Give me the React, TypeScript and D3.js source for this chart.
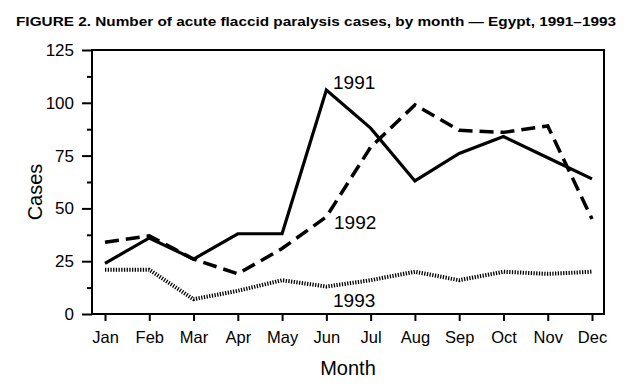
import React, { useRef, useEffect } from 'react';
import * as d3 from 'd3';

const months = ['Jan', 'Feb', 'Mar', 'Apr', 'May', 'Jun', 'Jul', 'Aug', 'Sep', 'Oct', 'Nov', 'Dec'];
const cases1991 = [24, 36, 26, 38, 38, 106, 88, 63, 76, 84, 74, 64];
const cases1992 = [34, 37, 26, 19, 31, 46, 79, 99, 87, 86, 89, 45];
const cases1993 = [21, 21, 7, 11, 16, 13, 16, 20, 16, 20, 19, 20];
const yTicks = [0, 25, 50, 75, 100, 125];
const yMinorTicks = [12.5, 37.5, 62.5, 87.5, 112.5];

const width = 644;
const height = 388;
const font = '"Liberation Sans", Arial, Helvetica, sans-serif';

const App = () => {
    const ref = useRef<SVGGElement>(null);

    const left = 92, right = 604, top = 50, bottom = 314;

    const xScale = d3.scalePoint<string>()
        .domain(months)
        .range([105, 592]);
    const yScale = d3.scaleLinear()
        .domain([0, 125])
        .range([bottom, top]);

    useEffect(() => {
        const g = d3.select(ref.current);
        g.selectAll('*').remove();

        // frame
        g.append('rect')
            .attr('x', left)
            .attr('y', top)
            .attr('width', right - left)
            .attr('height', bottom - top)
            .attr('fill', 'none')
            .attr('stroke', 'black')
            .attr('stroke-width', 2);

        // y axis
        const yAxis = g.append('g')
            .attr('transform', `translate(${left},0)`)
            .call(d3.axisLeft(yScale).tickValues(yTicks).tickSize(10).tickPadding(8).tickSizeOuter(0));
        yAxis.select('.domain').remove();
        yAxis.selectAll('line').attr('stroke-width', 2);
        yAxis.selectAll('text')
            .style('font-family', font)
            .style('font-size', '17px')
            .attr('fill', 'black');
        g.append('g')
            .attr('transform', `translate(${left},0)`)
            .call(d3.axisLeft(yScale).tickValues(yMinorTicks).tickSize(5).tickFormat(() => ''))
            .call(s => s.select('.domain').remove())
            .selectAll('line').attr('stroke-width', 2);

        // x axis
        const xAxis = g.append('g')
            .attr('transform', `translate(0,${bottom})`)
            .call(d3.axisBottom(xScale).tickSize(7).tickPadding(10).tickSizeOuter(0));
        xAxis.select('.domain').remove();
        xAxis.selectAll('line').attr('stroke-width', 2);
        xAxis.selectAll('text')
            .style('font-family', font)
            .style('font-size', '16.5px')
            .attr('fill', 'black');

        const line = (vals: number[]) => d3.line<number>()
            .x((d, i) => xScale(months[i]) as number)
            .y(d => yScale(d))(vals);

        g.append('path')
            .attr('d', line(cases1993))
            .attr('fill', 'none')
            .attr('stroke', 'black')
            .attr('stroke-width', 4)
            .attr('stroke-dasharray', '1.3,1.4');
        g.append('path')
            .attr('d', line(cases1992))
            .attr('fill', 'none')
            .attr('stroke', 'black')
            .attr('stroke-width', 3.5)
            .attr('stroke-dasharray', '14,7');
        g.append('path')
            .attr('d', line(cases1991))
            .attr('fill', 'none')
            .attr('stroke', 'black')
            .attr('stroke-width', 3.2)
            .attr('stroke-linejoin', 'miter');
    }, []);

    return (
        <svg width={width} height={height} style={{ position: 'absolute', left: 0, top: 0, background: 'white' }}>
            <text x={16} y={26} textLength={600} lengthAdjust="spacingAndGlyphs"
                style={{ fontFamily: font, fontWeight: 'bold', fontSize: '13px' }}>
                FIGURE 2. Number of acute flaccid paralysis cases, by month — Egypt, 1991–1993
            </text>
            <g ref={ref}></g>
            <text x={333} y={89} style={{ fontFamily: font, fontSize: '19px' }}>1991</text>
            <text x={334} y={229} style={{ fontFamily: font, fontSize: '19px' }}>1992</text>
            <text x={333} y={307} style={{ fontFamily: font, fontSize: '19px' }}>1993</text>
            <text x={348} y={375} textAnchor="middle" style={{ fontFamily: font, fontSize: '20px' }}>Month</text>
            <text transform="translate(42,192) rotate(-90)" textAnchor="middle"
                style={{ fontFamily: font, fontSize: '20px' }}>Cases</text>
        </svg>
    );
};

export default App;
